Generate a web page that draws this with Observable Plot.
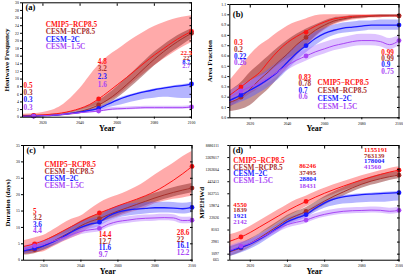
<!DOCTYPE html>
<html><head><meta charset="utf-8">
<script src="https://cdn.jsdelivr.net/npm/d3@7"></script>
<script src="https://cdn.jsdelivr.net/npm/@observablehq/plot@0.6"></script>
<style>
body{margin:0;background:#fff;}
#wrap{position:relative;width:403px;height:277px;overflow:hidden;background:#fff;}
#wrap svg{position:absolute;overflow:visible;}
</style></head><body><div id="wrap"></div>
<script>
const years = [2009,2015,2020,2025,2030,2035,2040,2045,2050,2055,2060,2065,2070,2075,2080,2085,2090,2095,2100];
const markYears = [2015,2050,2100];
const xTicks = [2020,2040,2060,2080,2100];
const seriesNames = ["CMIP5\u2212RCP8.5","CESM\u2212RCP8.5","CESM\u22122C","CESM\u22121.5C"];
const lineColors = ["#ff1414","#a8302c","#1a1aff","#a845f5"];
const bandColors = ["#ff6464","#8c2a28","#5a5aff","#b57aff"];
const bandOpacity = [0.55,0.5,0.45,0.45];
const lineWidths = [1,1,1.3,1];

// (a) Heatwave Frequency
const aRed   = [0.4,0.5,0.6,0.8,1.1,1.6,2.3,3.3,4.8,6.6,8.5,10.4,12.4,14.4,16.3,18.0,19.7,21.2,22.5];
const aRedLo = [0.1,0.2,0.3,0.5,0.8,1.2,1.8,2.5,3.2,4.2,5.5,7.5,9.6,11.6,13.5,15.2,16.8,18.3,19.5];
const aRedHi = [0.8,0.9,1.2,1.8,3.0,5.0,7.5,10.7,13.6,15.9,17.6,19.4,21.0,22.5,23.8,24.8,25.6,26.2,26.6];
const aDk    = [0.3,0.3,0.4,0.5,0.7,1.0,1.5,2.2,3.2,4.6,6.4,8.5,10.7,13.0,15.2,17.2,19.0,20.6,22.0];
const aDkLo  = [0.1,0.1,0.2,0.3,0.4,0.6,0.9,1.4,2.2,3.4,5.0,6.9,9.0,11.2,13.4,15.4,17.2,18.9,20.5];
const aDkHi  = [0.5,0.5,0.6,0.8,1.0,1.4,2.1,3.1,4.3,6.0,8.0,10.2,12.5,14.8,17.0,18.9,20.6,22.0,23.2];
const aBlue  = [0.2,0.3,0.4,0.5,0.7,1.0,1.3,1.8,2.3,3.4,4.5,5.4,6.1,6.7,7.2,7.6,8.0,8.3,8.7];
const aBlueLo= [0.1,0.2,0.3,0.4,0.5,0.7,0.9,1.3,1.7,2.4,3.0,3.6,4.2,4.7,5.0,5.2,5.1,4.9,4.9];
const aBlueHi= [0.3,0.4,0.5,0.6,0.8,1.1,1.5,2.0,2.6,3.6,4.8,5.6,6.3,6.9,7.4,7.8,8.2,8.5,8.9];
const aPur   = [0.2,0.3,0.4,0.5,0.7,0.9,1.2,1.4,1.6,2.0,2.2,2.3,2.4,2.5,2.5,2.5,2.5,2.5,2.7];
const aPurLo = [0.1,0.2,0.3,0.4,0.5,0.7,0.9,1.1,1.3,1.6,1.8,1.9,2.0,2.1,2.1,2.1,2.1,2.1,2.3];
const aPurHi = [0.3,0.4,0.5,0.6,0.9,1.1,1.5,1.7,1.9,2.4,2.6,2.7,2.8,2.9,2.9,2.9,2.9,2.9,3.1];
const aMarkRed = [0.5,4.8,22.5], aMarkDk = [0.3,3.2,22], aMarkBlue = [0.3,2.3,8.7], aMarkPur = [0.3,1.6,2.7];
const aYTicks = [0,2,4,6,8,10,12,14,16,18,20,22,24,26,28,30];

// (b) Area Fraction
const bRed   = [0.22,0.30,0.37,0.44,0.55,0.65,0.73,0.79,0.84,0.89,0.93,0.96,0.975,0.985,0.99,0.99,0.99,0.99,0.99];
const bRedLo = [0.10,0.17,0.23,0.29,0.36,0.43,0.52,0.61,0.69,0.78,0.85,0.90,0.93,0.95,0.96,0.97,0.97,0.98,0.98];
const bRedHi = [0.36,0.49,0.61,0.70,0.76,0.83,0.89,0.93,0.96,0.99,1.0,1.0,1.0,1.0,1.0,1.0,1.0,1.0,1.0];
const bDk    = [0.15,0.20,0.28,0.37,0.45,0.54,0.62,0.71,0.78,0.85,0.90,0.94,0.96,0.975,0.98,0.985,0.99,0.99,0.99];
const bDkLo  = [0.06,0.08,0.12,0.20,0.28,0.38,0.48,0.60,0.70,0.79,0.86,0.91,0.94,0.96,0.97,0.975,0.98,0.98,0.98];
const bDkHi  = [0.26,0.34,0.44,0.52,0.60,0.68,0.75,0.81,0.86,0.90,0.94,0.97,0.98,0.99,0.99,0.995,1.0,1.0,1.0];
const bBlue  = [0.17,0.22,0.27,0.32,0.38,0.45,0.54,0.63,0.70,0.77,0.82,0.85,0.87,0.88,0.89,0.90,0.90,0.90,0.90];
const bBlueLo= [0.11,0.15,0.19,0.24,0.30,0.37,0.46,0.55,0.63,0.70,0.76,0.80,0.82,0.83,0.84,0.85,0.85,0.85,0.85];
const bBlueHi= [0.23,0.29,0.35,0.41,0.47,0.54,0.62,0.70,0.77,0.83,0.87,0.90,0.92,0.93,0.94,0.94,0.95,0.95,0.95];
const bPur   = [0.20,0.26,0.30,0.34,0.39,0.45,0.51,0.56,0.60,0.64,0.67,0.70,0.72,0.74,0.75,0.75,0.74,0.71,0.75];
const bPurLo = [0.14,0.20,0.25,0.29,0.34,0.40,0.46,0.51,0.55,0.59,0.62,0.65,0.67,0.69,0.70,0.70,0.69,0.66,0.70];
const bPurHi = [0.26,0.32,0.36,0.40,0.45,0.51,0.57,0.62,0.66,0.70,0.73,0.76,0.78,0.80,0.81,0.81,0.80,0.77,0.80];
const bMarkRed = [0.3,0.83,0.99], bMarkDk = [0.2,0.78,0.99], bMarkBlue = [0.22,0.7,0.9], bMarkPur = [0.26,0.6,0.75];
const bYTicks = [0,0.1,0.2,0.3,0.4,0.5,0.6,0.7,0.8,0.9,1.0,1.1];

// (c) Duration (days)
const cRed   = [4.2,5.0,6.0,7.3,8.8,10.3,11.8,13.2,14.4,15.5,16.6,17.6,18.6,19.7,21.0,22.6,24.4,26.4,28.6];
const cRedLo = [1.8,2.2,2.6,4.0,5.5,6.7,8.0,10.0,11.5,12.3,13.2,14.2,15.0,16.0,17.2,18.0,18.6,19.0,19.5];
const cRedHi = [5.9,6.8,7.6,9.2,11.0,12.5,13.5,15.5,17.4,18.8,19.8,21.0,22.3,24.0,26.0,27.8,29.6,31.6,33.2];
const cDk    = [2.8,3.2,4.4,5.8,7.3,8.8,10.5,11.8,12.7,13.9,15.0,16.0,17.0,18.0,19.0,19.9,20.7,21.4,22.0];
const cDkLo  = [1.6,2.0,3.0,4.4,5.9,7.4,9.1,10.4,11.3,12.5,13.6,14.6,15.6,16.6,17.6,18.5,19.3,20.0,20.6];
const cDkHi  = [4.0,4.4,5.8,7.2,8.7,10.2,11.9,13.2,14.1,15.3,16.4,17.4,18.4,19.4,20.4,21.3,22.1,22.8,23.4];
const cBlue  = [2.8,3.6,4.4,5.6,7.0,8.6,10.0,11.0,11.6,13.5,14.7,15.3,15.6,15.8,16.0,16.0,15.9,15.7,16.1];
const cBlueLo= [1.8,2.4,3.2,4.3,5.6,7.1,8.5,9.5,10.3,11.8,12.8,13.4,13.8,14.1,14.3,14.4,14.3,14.1,14.5];
const cBlueHi= [3.8,4.8,5.6,6.9,8.4,10.1,11.5,12.5,13.2,15.2,16.5,17.1,17.4,17.6,17.7,17.7,17.6,17.4,17.7];
const cPur   = [3.2,4.4,4.9,5.8,6.8,7.8,8.8,9.3,9.7,11.0,11.8,12.2,12.6,12.8,12.9,13.0,12.9,12.1,12.2];
const cPurLo = [2.2,3.4,3.9,4.8,5.8,6.8,7.8,8.3,8.7,10.0,10.8,11.2,11.6,11.8,11.9,12.0,11.9,11.1,11.2];
const cPurHi = [4.2,5.4,5.9,6.8,7.8,8.8,9.8,10.3,10.7,12.0,12.8,13.2,13.6,13.8,13.9,14.0,13.9,13.1,13.2];
const cMarkRed = [5,14.4,28.6], cMarkDk = [3.2,12.7,22], cMarkBlue = [3.6,11.6,16.1], cMarkPur = [4.4,9.7,12.2];
const cYTicks = [0,5,10,15,20,25,30,35];

// (d) MPEHWd, read as natural log of the value
const dRed   = [8.07,8.42,8.8,9.25,9.7,10.15,10.6,11.0,11.36,11.72,12.05,12.35,12.63,12.9,13.15,13.38,13.6,13.8,13.96];
const dRedLo = [7.4,7.8,8.2,8.7,9.1,9.6,10.1,10.5,10.9,11.3,11.65,11.95,12.25,12.5,12.75,13.0,13.2,13.4,13.55];
const dRedHi = [8.6,8.9,9.3,9.75,10.2,10.65,11.1,11.5,11.8,12.15,12.45,12.75,13.0,13.25,13.5,13.7,13.9,14.1,14.25];
const dDk    = [7.2,7.52,7.9,8.35,8.85,9.35,9.85,10.2,10.53,10.95,11.4,11.8,12.15,12.5,12.8,13.05,13.25,13.42,13.55];
const dDkLo  = [6.8,7.15,7.55,8.0,8.5,9.0,9.5,9.85,10.2,10.6,11.05,11.45,11.8,12.15,12.45,12.7,12.9,13.1,13.25];
const dDkHi  = [7.6,7.9,8.25,8.7,9.2,9.7,10.2,10.55,10.85,11.3,11.75,12.15,12.5,12.85,13.15,13.4,13.6,13.75,13.85];
const dBlue  = [7.25,7.56,7.85,8.25,8.7,9.2,9.7,10.0,10.27,10.8,11.25,11.55,11.75,11.85,11.93,11.98,12.02,12.05,12.09];
const dBlueLo= [6.8,7.1,7.4,7.8,8.3,8.8,9.35,9.7,10.0,10.45,10.8,11.0,11.15,11.2,11.25,11.3,11.3,11.35,11.4];
const dBlueHi= [7.6,7.9,8.15,8.55,9.0,9.5,9.95,10.25,10.5,11.0,11.4,11.65,11.85,11.95,12.0,12.05,12.1,12.15,12.2];
const dPur   = [7.3,7.67,7.9,8.3,8.7,9.1,9.45,9.65,9.82,10.1,10.3,10.45,10.55,10.6,10.62,10.65,10.63,10.55,10.63];
const dPurLo = [6.9,7.3,7.6,8.0,8.4,8.8,9.15,9.35,9.55,9.85,10.05,10.2,10.3,10.35,10.37,10.4,10.38,10.3,10.38];
const dPurHi = [7.7,8.0,8.2,8.6,9.0,9.4,9.75,9.95,10.1,10.35,10.55,10.7,10.8,10.85,10.87,10.9,10.88,10.8,10.88];
const dMarkRed = [4550,86246,1155191], dMarkDk = [1839,37495,763139], dMarkBlue = [1921,28804,178004], dMarkPur = [2142,18431,41560];
const dYTicks = [6.5,7,8,9,10,11,12,13,14,15,16];
const dYTickLabels = ["665","1097","2981","8103","22026","59874","162755","442413","1202604","3269017","8886111"];

const SERIF = "Liberation Serif, Times New Roman, serif";

function panel(p) {
  const m = [];
  p.bands.forEach((b, k) => m.push(Plot.areaY(years.map((yr, i) => ({year: yr, lo: b[0][i], hi: b[1][i]})),
    {x: "year", y1: "lo", y2: "hi", fill: bandColors[k], fillOpacity: bandOpacity[k], curve: "monotone-x"})));
  p.means.forEach((s, k) => m.push(Plot.line(years.map((yr, i) => ({year: yr, v: s[i]})),
    {x: "year", y: "v", stroke: lineColors[k], strokeWidth: lineWidths[k], curve: "monotone-x"})));
  p.markVals.forEach((mv, k) => m.push(Plot.dot(markYears.map((yr, j) => ({year: yr, v: p.toY(mv[j])})),
    {x: "year", y: "v", r: 2.4, fill: lineColors[k], stroke: "none"})));
  m.push(Plot.axisX({anchor: "bottom", ticks: xTicks, tickSize: 2, tickPadding: 2, tickFormat: d => String(d), fontSize: 3.8, fontFamily: SERIF, label: null}));
  m.push(Plot.axisX({anchor: "top", ticks: xTicks, tickSize: -2.5, tickFormat: () => "", label: null}));
  m.push(Plot.axisY({anchor: "left", ticks: p.yTicks, tickSize: 2, tickPadding: p.yPad, tickFormat: p.yFmt, fontSize: 3.8, fontFamily: SERIF, label: null}));
  m.push(Plot.axisY({anchor: "right", ticks: p.yTicks, tickSize: -2.5, tickFormat: () => "", label: null}));
  m.push(Plot.frame({stroke: "black", strokeWidth: 1}));
  // legend
  seriesNames.forEach((nm, i) => m.push(Plot.text([{x: p.leg.x, y: p.leg.y, t: nm}],
    {x: "x", y: "y", text: "t", dy: i * p.leg.lh, textAnchor: "start", fill: lineColors[i], fontSize: 7.3, fontWeight: "bold", fontFamily: SERIF})));
  // value groups
  p.groups.forEach((g, gi) => p.markVals.forEach((mv, i) => m.push(Plot.text([{x: g.x, y: g.y, t: String(mv[gi])}],
    {x: "x", y: "y", text: "t", dy: i * g.lh, textAnchor: g.anchor, fill: lineColors[i], fontSize: g.fs || 7.2, fontWeight: "bold", fontFamily: SERIF}))));
  m.push(Plot.text([p.tag], {frameAnchor: "top-left", dx: 3, dy: p.tagDy, textAnchor: "start", lineAnchor: "top", fontSize: 8.5, fontWeight: "bold", fontFamily: SERIF}));
  m.push(Plot.text([p.ytitle], {frameAnchor: "left", rotate: -90, dx: p.ytDx, textAnchor: "middle", fontSize: 7, fontWeight: "bold", fontFamily: SERIF}));
  m.push(Plot.text(["Year"], {frameAnchor: "bottom", dy: p.yearDy, textAnchor: "middle", fontSize: 8, fontWeight: "bold", fontFamily: SERIF}));
  const svg = Plot.plot({
    width: p.w, height: p.h,
    marginLeft: p.ml, marginRight: p.mr, marginTop: p.mt, marginBottom: p.mb,
    x: {domain: [2009, 2100]},
    y: {domain: p.yDomain},
    style: {background: "transparent", overflow: "visible"},
    marks: m
  });
  svg.style.left = p.left + "px";
  svg.style.top = p.top + "px";
  document.getElementById("wrap").appendChild(svg);
}

const ident = v => v;

panel({
  left: 0, top: 0, w: 200, h: 137, ml: 22, mr: 9, mt: 2.3, mb: 20.3,
  yDomain: [0, 30], yTicks: aYTicks, yFmt: d => String(d), yPad: 1.7, toY: ident,
  bands: [[aRedLo, aRedHi], [aDkLo, aDkHi], [aBlueLo, aBlueHi], [aPurLo, aPurHi]],
  means: [aRed, aDk, aBlue, aPur],
  markVals: [aMarkRed, aMarkDk, aMarkBlue, aMarkPur],
  leg: {x: 2021.5, y: 24.3, lh: 7.4},
  groups: [{x: 2012, y: 8.3, lh: 7.3, anchor: "middle"}, {x: 2052, y: 14.6, lh: 7.6, anchor: "middle"}, {x: 2097.2, y: 16.8, lh: 4.4, anchor: "middle", fs: 6.5}],
  tag: "(a)", tagDy: 1, ytitle: "Heatwave Frequency", ytDx: -15.3, yearDy: 13.5
});
panel({
  left: 200, top: 0, w: 203, h: 137, ml: 29.3, mr: 4.5, mt: 4, mb: 19.7,
  yDomain: [0, 1.1], yTicks: bYTicks, yFmt: d => d.toFixed(1), yPad: 1.7, toY: ident,
  bands: [[bRedLo, bRedHi], [bDkLo, bDkHi], [bBlueLo, bBlueHi], [bPurLo, bPurHi]],
  means: [bRed, bDk, bBlue, bPur],
  markVals: [bMarkRed, bMarkDk, bMarkBlue, bMarkPur],
  leg: {x: 2056.2, y: 0.337, lh: 7.7},
  groups: [{x: 2011.2, y: 0.73, lh: 6.8, anchor: "start"}, {x: 2046.0, y: 0.39, lh: 6.5, anchor: "start"}, {x: 2090.5, y: 0.63, lh: 6.1, anchor: "start"}],
  tag: "(b)", tagDy: 6.5, ytitle: "Area Fraction", ytDx: -20, yearDy: 13
});
panel({
  left: 0, top: 137, w: 200, h: 140, ml: 23, mr: 8.5, mt: 8, mb: 17.3,
  yDomain: [0, 35], yTicks: cYTicks, yFmt: d => String(d), yPad: 1.7, toY: ident,
  bands: [[cRedLo, cRedHi], [cDkLo, cDkHi], [cBlueLo, cBlueHi], [cPurLo, cPurHi]],
  means: [cRed, cDk, cBlue, cPur],
  markVals: [cMarkRed, cMarkDk, cMarkBlue, cMarkPur],
  leg: {x: 2020.3, y: 29.1, lh: 7.1},
  groups: [{x: 2014.1, y: 14.9, lh: 6.6, anchor: "start"}, {x: 2049.7, y: 7.75, lh: 6.6, anchor: "start"}, {x: 2091.8, y: 8.5, lh: 6.9, anchor: "start"}],
  tag: "(c)", tagDy: 1.5, ytitle: "Duration (days)", ytDx: -16, yearDy: 13.3
});
panel({
  left: 200, top: 137, w: 203, h: 140, ml: 29.3, mr: 4.5, mt: 8, mb: 17.3,
  yDomain: [6.5, 16], yTicks: dYTicks, yFmt: (d, i) => dYTickLabels[dYTicks.indexOf(d)], yPad: 9, toY: v => Math.log(v),
  bands: [[dRedLo, dRedHi], [dDkLo, dDkHi], [dBlueLo, dBlueHi], [dPurLo, dPurHi]],
  means: [dRed, dDk, dBlue, dPur],
  markVals: [dMarkRed, dMarkDk, dMarkBlue, dMarkPur],
  leg: {x: 2010.9, y: 14.76, lh: 6.7},
  groups: [{x: 2010.9, y: 11.12, lh: 5.7, anchor: "start", fs: 6.8}, {x: 2046.3, y: 14.29, lh: 6.4, anchor: "start", fs: 6.8}, {x: 2081.2, y: 15.67, lh: 5.9, anchor: "start", fs: 6.8}],
  tag: "(d)", tagDy: 1.5, ytitle: "MPEHWd", ytDx: -28, yearDy: 13.3
});
</script></body></html>
